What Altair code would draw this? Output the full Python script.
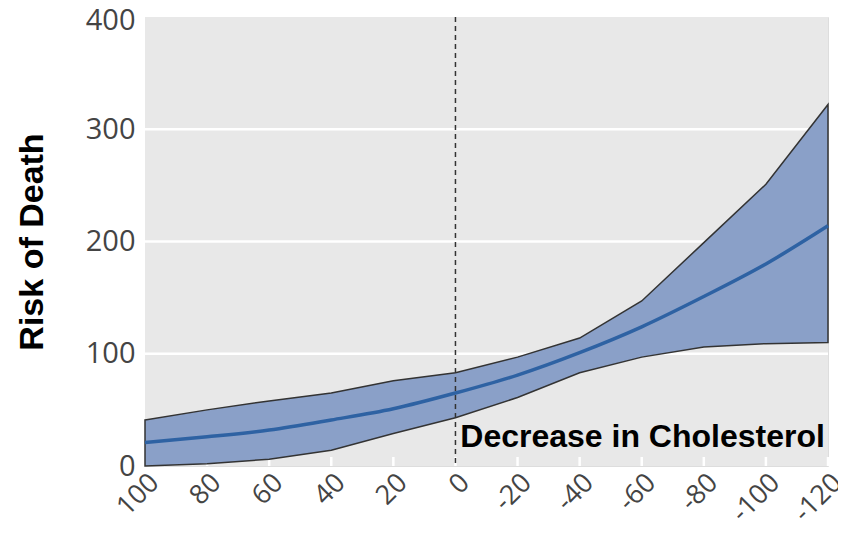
import altair as alt
import pandas as pd

x_vals = [100, 80, 60, 40, 20, 0, -20, -40, -60, -80, -100, -120]
upper = [41, 50, 58, 65, 76, 83, 97, 114, 147, 199, 251, 322]
mean = [21, 26, 32, 41, 51, 65, 81, 101, 124, 151, 180, 214]
lower = [0, 2, 6, 14, 29, 43, 61, 83, 97, 106, 109, 110]
y_ticks = [0, 100, 200, 300, 400]
grid_vals = [100, 200, 300]

df = pd.DataFrame({"x": x_vals, "upper": upper, "mean": mean, "lower": lower})
ann = pd.DataFrame({"x": [-119], "y": [17], "label": ["Decrease in Cholesterol"]})
zero_df = pd.DataFrame({"x": [0]})
tick_df = pd.DataFrame({"x": x_vals})
grid_df = pd.DataFrame({"y": grid_vals})
bg_df = pd.DataFrame({"a": [0]})

W, H = 683, 449

xscale = alt.Scale(domain=[100, -120], nice=False, zero=False)
yscale = alt.Scale(domain=[0, 400], nice=False)

xaxis = alt.Axis(values=x_vals, labelAngle=-45, labelFont="Open Sans", labelFontSize=27,
                 labelColor="#444444", ticks=False, domain=False, grid=False, title=None,
                 labelPadding=3, labelExpr="datum.value + ''")
yaxis = alt.Axis(values=y_ticks, labelFont="Open Sans", labelFontSize=29,
                 labelColor="#444444", ticks=False, domain=False, grid=False,
                 labelPadding=10,
                 labelOffset={"condition": {"test": "datum.value == 400", "value": 3}, "value": 0},
                 title="Risk of Death", titleFont="Liberation Sans", titleFontSize=34,
                 titleFontWeight="bold", titleColor="black", titlePadding=36)

bg = alt.Chart(bg_df).mark_rect(color="#e8e8e8").encode(
    x=alt.value(0), x2=alt.value(W), y=alt.value(0), y2=alt.value(H),
)

grid = alt.Chart(grid_df).mark_rule(color="white", strokeWidth=2.5).encode(
    y=alt.Y("y:Q", scale=yscale),
    x=alt.value(0), x2=alt.value(W),
)

bottom_ticks = alt.Chart(tick_df).mark_rule(color="white", strokeWidth=2.5).encode(
    x=alt.X("x:Q", scale=xscale),
    y=alt.value(H), y2=alt.value(H - 9),
)

band = alt.Chart(df).mark_area(color="#8aa0c8", opacity=1, stroke="#333333",
                               strokeWidth=1.5).encode(
    x=alt.X("x:Q", scale=xscale, axis=xaxis),
    y=alt.Y("upper:Q", scale=yscale, axis=yaxis),
    y2="lower:Q",
)

line = alt.Chart(df).mark_line(color="#2e62a3", strokeWidth=3.5, interpolate="monotone").encode(
    x=alt.X("x:Q", scale=xscale),
    y=alt.Y("mean:Q", scale=yscale),
)

zero_rule = alt.Chart(zero_df).mark_rule(color="#333333", strokeDash=[5, 4], strokeWidth=1.5).encode(
    x=alt.X("x:Q", scale=xscale),
    y=alt.value(0), y2=alt.value(H),
)

text = alt.Chart(ann).mark_text(align="right", baseline="alphabetic", font="Liberation Sans",
                                fontSize=32, fontWeight="bold", color="black").encode(
    x=alt.X("x:Q", scale=xscale),
    y=alt.Y("y:Q", scale=yscale),
    text="label:N",
)

chart = alt.layer(bg, grid, bottom_ticks, band, zero_rule, line, text).properties(
    width=W, height=H,
    autosize=alt.AutoSizeParams(type="none"),
    padding={"left": 137, "top": 9, "right": 10, "bottom": 70},
).configure_view(strokeWidth=0).configure(background="white")

chart.save("out.html", embed_options={"renderer": "svg", "actions": False})
